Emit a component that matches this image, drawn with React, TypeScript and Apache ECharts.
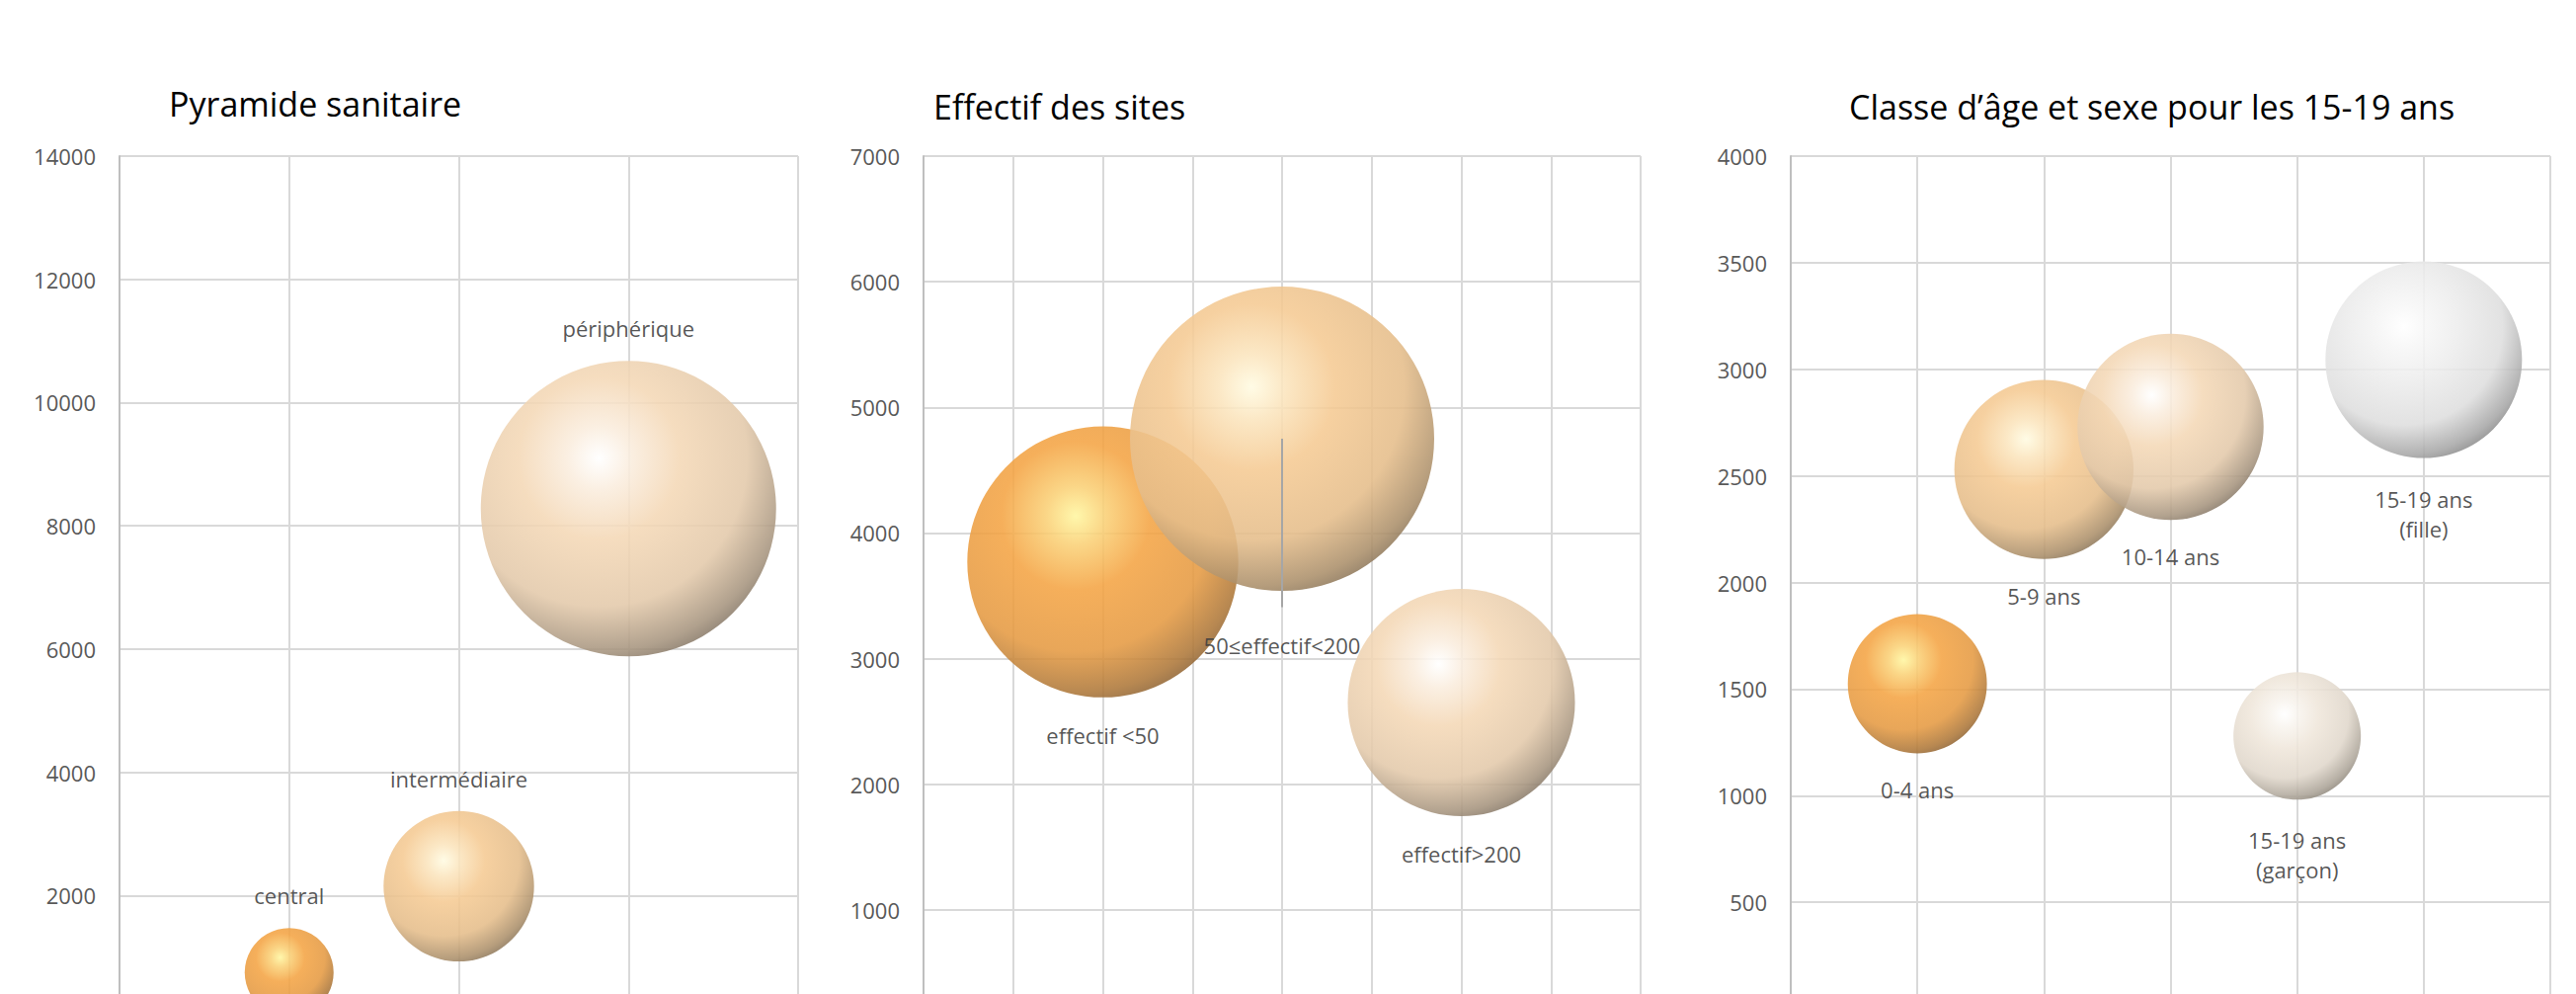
import React, { useEffect, useRef } from 'react';
import * as echarts from 'echarts';

// --- Pyramide sanitaire -------------------------------------------------
const pyramideNiveaux = ['central', 'intermédiaire', 'périphérique'];
const pyramideRang = [1, 2, 3];
const pyramideEffectif = [750, 2150, 8280];
const pyramideAxeY = { min: 0, max: 14000, interval: 2000 };
const pyramideAxeX = { min: 0, max: 4, interval: 1 };

// --- Effectif des sites -------------------------------------------------
const sitesClasses = ['effectif <50', '50≤effectif<200', 'effectif>200'];
const sitesRang = [1, 2, 3];
const sitesEffectif = [3770, 4750, 2650];
// lower end of the leader line joining the middle bubble to its moved label
const sitesRepereBas = 3410;
const sitesAxeY = { min: 0, max: 7000, interval: 1000 };
const sitesAxeX = { min: 0, max: 4, interval: 0.5 };

// --- Classe d'âge et sexe -----------------------------------------------
const agesClasses = ['0-4 ans', '5-9 ans', '10-14 ans', '15-19 ans\n(garçon)', '15-19 ans\n(fille)'];
const agesRang = [1, 2, 3, 4, 5];
const agesEffectif = [1525, 2530, 2730, 1280, 3045];
const agesAxeY = { min: 0, max: 4000, interval: 500 };
const agesAxeX = { min: 0, max: 6, interval: 1 };

// --- styling ------------------------------------------------------------
const FONT = "'Open Sans', 'Noto Sans', sans-serif";

type Teinte = { base: string; light: string; shade: string };
const ORANGE: Teinte = { base: '#F4A444', light: '#FFF6A0', shade: '#735230' };
const PECHE: Teinte = { base: '#F5CA93', light: '#FFFBE2', shade: '#6E5E49' };
const SABLE: Teinte = { base: '#F4D8B6', light: '#FFFFFF', shade: '#675C50' };
const CREME: Teinte = { base: '#EFE6DA', light: '#FFFFFF', shade: '#736C61' };
const ARGENT: Teinte = { base: '#EDEDED', light: '#FFFFFF', shade: '#6E6E6E' };

function hex(c: string): number[] {
  const h = c.replace('#', '');
  return [0, 2, 4].map((i) => parseInt(h.slice(i, i + 2), 16));
}
function mix(a: string, b: string, t: number): string {
  const A = hex(a);
  const B = hex(b);
  const r = A.map((v, i) => Math.round(v + (B[i] - v) * t));
  return `rgb(${r[0]},${r[1]},${r[2]})`;
}

// shaded sphere: highlight upper-left, darker rim lower-right
function sphere(t: Teinte) {
  return {
    type: 'radial',
    x: 0.4,
    y: 0.33,
    r: 0.76,
    colorStops: [
      { offset: 0, color: t.light },
      { offset: 0.14, color: mix(t.light, t.base, 0.45) },
      { offset: 0.36, color: t.base },
      { offset: 0.66, color: mix(t.base, t.shade, 0.12) },
      { offset: 0.86, color: mix(t.base, t.shade, 0.55) },
      { offset: 1, color: t.shade },
    ],
  };
}

const gridLine = { show: true, lineStyle: { color: '#D9D9D9', width: 2 } };

function axes(gridIndex: number, ax: any, ay: any) {
  return {
    x: {
      type: 'value',
      gridIndex,
      min: ax.min,
      max: ax.max,
      interval: ax.interval,
      axisLine: { show: false },
      axisTick: { show: false },
      axisLabel: { show: false },
      splitLine: gridLine,
    },
    y: {
      type: 'value',
      gridIndex,
      min: ay.min,
      max: ay.max,
      interval: ay.interval,
      axisLine: { show: true, lineStyle: { color: '#BFBFBF', width: 2 } },
      axisTick: { show: false },
      splitLine: gridLine,
      axisLabel: {
        show: true,
        showMinLabel: false,
        margin: 24,
        color: '#595959',
        fontSize: 22,
        fontFamily: FONT,
        formatter: (v: number) => String(v),
      },
    },
  };
}

function bulles(
  idx: number,
  noms: string[],
  xs: number[],
  ys: number[],
  teintes: Teinte[],
  diametreMax: number,
  position: 'top' | 'bottom',
  distances: number[],
) {
  const k = diametreMax / Math.sqrt(Math.max(...ys));
  return {
    type: 'scatter',
    xAxisIndex: idx,
    yAxisIndex: idx,
    silent: true,
    symbol: 'circle',
    symbolSize: (v: number[]) => k * Math.sqrt(v[2]),
    data: noms.map((nom, i) => ({
      name: nom,
      value: [xs[i], ys[i], ys[i]],
      itemStyle: { color: sphere(teintes[i]), opacity: 0.88 },
      label: { distance: distances[i] },
    })),
    label: {
      show: true,
      position,
      formatter: (p: any) => p.name,
      color: '#404040',
      fontSize: 22,
      lineHeight: 30,
      fontFamily: FONT,
      align: 'center',
    },
    emphasis: { disabled: true },
  };
}

export default function App() {
  const ref = useRef<HTMLDivElement>(null);

  useEffect(() => {
    if (!ref.current) return;
    const chart = echarts.init(ref.current, undefined, { renderer: 'svg' });

    const a1 = axes(0, pyramideAxeX, pyramideAxeY);
    const a2 = axes(1, sitesAxeX, sitesAxeY);
    const a3 = axes(2, agesAxeX, agesAxeY);

    const titre = (text: string, left: number, top: number) => ({
      text,
      left,
      top,
      padding: 0,
      textStyle: { fontSize: 34, fontWeight: 'normal', color: '#000000', fontFamily: FONT },
    });

    const sites = bulles(
      1,
      sitesClasses,
      sitesRang,
      sitesEffectif,
      [ORANGE, PECHE, SABLE],
      308,
      'bottom',
      [23, 40, 23],
    ) as any;
    sites.markLine = {
      silent: true,
      symbol: ['none', 'none'],
      label: { show: false },
      lineStyle: { color: '#A6A6A6', width: 2, type: 'solid' },
      data: [
        [
          { coord: [sitesRang[1], sitesEffectif[1]] },
          { coord: [sitesRang[1], sitesRepereBas] },
        ],
      ],
    };

    chart.setOption({
      animation: false,
      backgroundColor: '#FFFFFF',
      title: [
        titre('Pyramide sanitaire', 171, 88),
        titre('Effectif des sites', 945, 91),
        titre('Classe d’âge et sexe pour les 15-19 ans', 1872, 91),
      ],
      grid: [
        { left: 121, top: 158, width: 687, height: 873, containLabel: false, outerBoundsMode: 'none' },
        { left: 935, top: 158, width: 726, height: 890, containLabel: false, outerBoundsMode: 'none' },
        { left: 1813, top: 158, width: 769, height: 863, containLabel: false, outerBoundsMode: 'none' },
      ],
      xAxis: [a1.x, a2.x, a3.x],
      yAxis: [a1.y, a2.y, a3.y],
      series: [
        bulles(0, pyramideNiveaux, pyramideRang, pyramideEffectif, [ORANGE, PECHE, SABLE], 299, 'top', [18, 18, 18]),
        sites,
        bulles(
          2,
          agesClasses,
          agesRang,
          agesEffectif,
          [ORANGE, PECHE, SABLE, CREME, ARGENT],
          199,
          'bottom',
          [22, 22, 22, 26, 26],
        ),
      ],
    });

    return () => chart.dispose();
  }, []);

  return (
    <div
      ref={ref}
      style={{ position: 'absolute', left: 0, top: 0, width: 2608, height: 1006, background: '#FFFFFF' }}
    />
  );
}
